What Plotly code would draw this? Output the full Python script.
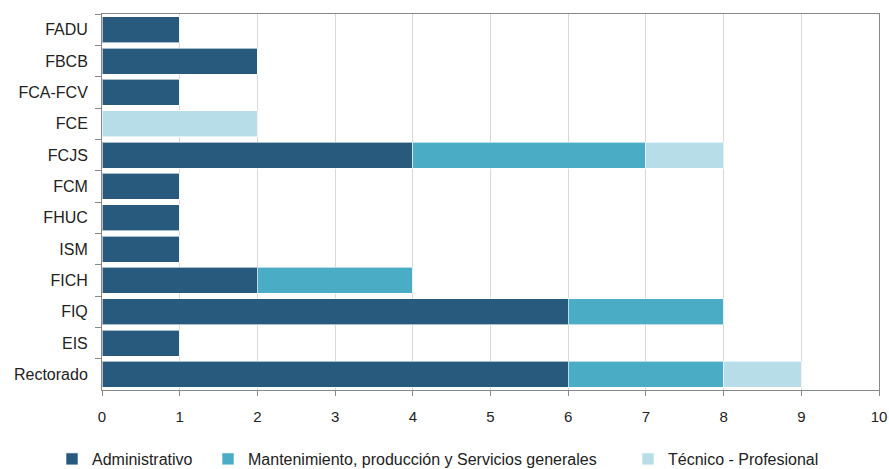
import plotly.graph_objects as go

categories = ["FADU", "FBCB", "FCA-FCV", "FCE", "FCJS", "FCM", "FHUC", "ISM", "FICH", "FIQ", "EIS", "Rectorado"]
administrativo = [1, 2, 1, 0, 4, 1, 1, 1, 2, 6, 1, 6]
mantenimiento = [0, 0, 0, 0, 3, 0, 0, 0, 2, 2, 0, 2]
tecnico = [0, 0, 0, 2, 1, 0, 0, 0, 0, 0, 0, 1]

series = [
    ("Administrativo", administrativo, "#285A7E", "legend"),
    ("Mantenimiento, producción y Servicios generales", mantenimiento, "#4BACC6", "legend2"),
    ("Técnico - Profesional", tecnico, "#B7DDE8", "legend3"),
]

fig = go.Figure()
for name, vals, col, lg in series:
    fig.add_trace(go.Bar(
        y=categories, x=vals, name=name, orientation="h", legend=lg,
        marker=dict(color=col, line=dict(color="rgba(255,255,255,0.6)", width=1)),
    ))

def leg(xpx):
    return dict(orientation="h", xref="container", yref="container",
                x=xpx / 889, xanchor="left", y=10 / 469, yanchor="middle",
                font=dict(size=16, color="#222"), itemwidth=30,
                bgcolor="rgba(0,0,0,0)")

fig.update_layout(
    barmode="stack",
    bargap=0.17,
    width=889, height=469,
    margin=dict(l=102, r=10, t=14, b=79),
    plot_bgcolor="white", paper_bgcolor="white",
    font=dict(family="Liberation Sans, Arial", size=14, color="#222"),
    showlegend=True,
    legend=leg(52),
    legend2=leg(208),
    legend3=leg(628),
    xaxis=dict(range=[0, 10], dtick=1, showgrid=True, gridcolor="#D9D9D9",
               showline=True, linecolor="#888", mirror=True, ticks="outside",
               ticklen=5, tickcolor="#888", zeroline=False, automargin=False,
               ticklabelstandoff=8, tickfont=dict(size=15)),
    yaxis=dict(autorange="reversed", showline=True, linecolor="#888", mirror=True,
               ticks="outside", ticklen=6, tickcolor="#888", tickson="boundaries",
               showgrid=False, tickfont=dict(size=16), automargin=False,
               ticklabelstandoff=10),
)

fig.write_html("out.html", config={"displayModeBar": False},
               post_script="document.body.style.margin='0';document.body.style.overflow='hidden';")
